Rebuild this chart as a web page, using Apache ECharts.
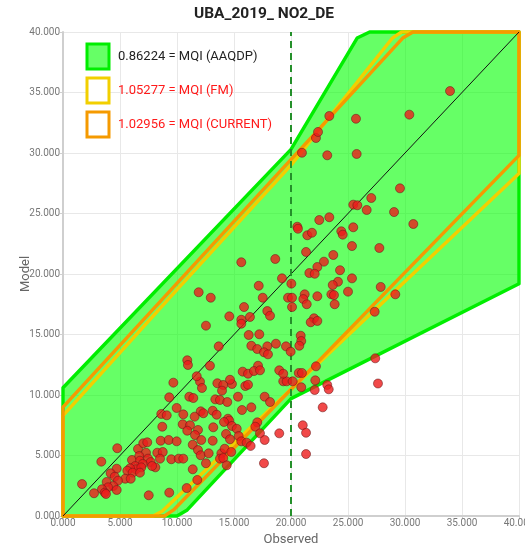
<!DOCTYPE html>
<html>
<head>
<meta charset="utf-8">
<script src="https://cdn.jsdelivr.net/npm/echarts@6/dist/echarts.min.js"></script>
<style>
  html, body { margin: 0; padding: 0; background: #fff; }
  #chart { width: 525px; height: 545px; }
</style>
</head>
<body>
<div id="chart"></div>
<script>
// Station means: observed vs modelled NO2
const observed = [
  9.32, 8.62, 9.10, 8.71, 8.57, 9.27, 4.76, 6.58, 7.04, 7.39,
  3.36, 7.28, 8.27, 8.75, 6.05, 6.69, 6.75, 7.46, 8.51, 7.69,
  6.99, 6.34, 6.40, 6.87, 8.10, 7.81, 9.50, 5.88, 5.64, 6.11,
  6.75, 4.71, 4.18, 4.54, 5.46, 5.94, 4.82, 3.83, 4.41, 3.95,
  3.42, 4.71, 3.66, 3.77, 1.67, 2.72, 7.52, 9.32, 9.68, 12.02,
  12.19, 13.54, 14.06, 14.82, 13.95, 15.99, 16.23, 19.32, 19.62, 9.97,
  11.08, 11.43, 13.36, 13.77, 14.41, 15.35, 17.69, 18.16, 16.52, 15.70,
  13.13, 13.48, 12.08, 12.31, 10.55, 11.55, 14.47, 14.59, 14.12, 10.50,
  11.14, 13.18, 14.82, 15.24, 17.04, 16.87, 10.90, 11.84, 11.58, 12.13,
  14.30, 14.65, 15.41, 15.64, 16.11, 17.28, 17.69, 18.97, 16.46, 9.97,
  13.13, 11.38, 11.84, 12.08, 12.78, 13.89, 14.18, 14.76, 13.77, 14.06,
  10.15, 10.55, 12.54, 14.36, 17.63, 11.38, 11.78, 10.85, 15.64, 18.62,
  19.21, 17.17, 11.90, 12.96, 17.52, 19.74, 15.88, 17.92, 18.16, 14.59,
  16.40, 15.64, 15.64, 12.54, 16.29, 17.22, 13.66, 16.52, 17.04, 17.92,
  18.68, 19.56, 17.63, 17.98, 10.90, 10.96, 12.89, 17.11, 15.76, 16.23,
  16.75, 17.28, 18.97, 19.32, 11.73, 14.65, 22.89, 23.71, 22.31, 21.61,
  22.08, 24.30, 25.35, 24.12, 23.66, 20.03, 25.00, 23.54, 23.77, 21.20,
  21.08, 22.31, 20.09, 21.38, 20.09, 23.83, 27.87, 29.15, 27.34, 22.02,
  21.73, 22.31, 20.85, 20.90, 20.73, 19.97, 27.39, 22.19, 20.68, 20.96,
  22.13, 23.18, 27.63, 20.15, 20.90, 22.08, 23.31, 22.78, 21.03, 21.32,
  21.32, 22.19, 22.37, 20.96, 23.18, 25.76, 29.56, 27.04, 25.46, 25.82,
  26.64, 29.04, 30.73, 22.48, 23.36, 20.55, 20.61, 21.43, 21.84, 24.41,
  24.54, 25.46, 25.35, 27.75, 21.32, 23.36, 25.70, 30.38, 33.95
];
const modelled = [
  9.81, 8.43, 8.32, 7.38, 6.22, 6.28, 5.60, 5.54, 6.01, 6.09,
  4.49, 5.23, 5.23, 5.29, 4.63, 4.96, 4.57, 4.74, 4.74, 4.46,
  4.30, 4.13, 3.86, 4.02, 4.02, 4.13, 4.69, 3.94, 3.74, 3.58,
  3.58, 3.91, 3.53, 3.25, 3.08, 3.08, 2.92, 2.81, 2.48, 2.37,
  2.21, 2.15, 1.93, 1.82, 2.64, 1.88, 1.71, 1.93, 11.02, 11.10,
  10.58, 10.97, 10.83, 10.91, 10.36, 10.74, 10.85, 11.13, 11.13, 8.93,
  9.86, 9.75, 9.64, 9.59, 9.42, 9.86, 9.86, 9.42, 8.98, 8.76,
  8.70, 8.37, 8.65, 8.49, 8.40, 8.21, 8.04, 7.88, 7.77, 7.58,
  7.50, 7.33, 7.44, 7.21, 7.74, 7.38, 7.05, 7.11, 6.69, 6.28,
  6.78, 6.34, 6.61, 6.17, 6.06, 6.83, 6.28, 6.83, 5.79, 6.17,
  6.22, 5.89, 5.45, 5.02, 5.18, 5.18, 5.56, 5.29, 4.74, 4.79,
  4.74, 4.74, 4.36, 4.19, 4.36, 3.86, 2.98, 2.31, 20.97, 21.24,
  19.64, 19.03, 18.49, 18.04, 18.04, 18.04, 17.27, 16.94, 16.55, 16.50,
  16.45, 16.22, 15.89, 15.73, 14.96, 15.02, 14.02, 14.07, 13.80, 14.02,
  14.24, 14.02, 13.53, 13.36, 12.87, 12.48, 12.42, 12.42, 11.93, 11.76,
  11.98, 12.04, 12.04, 11.76, 11.55, 11.26, 21.02, 21.57, 20.58, 20.08,
  20.02, 20.31, 19.64, 19.36, 19.09, 19.20, 18.54, 18.32, 18.26, 18.32,
  17.93, 18.16, 18.04, 17.50, 17.27, 17.50, 18.93, 18.32, 16.88, 16.34,
  16.01, 16.12, 14.90, 14.46, 14.07, 13.58, 13.03, 12.37, 11.82, 11.82,
  11.21, 10.83, 10.95, 11.13, 10.64, 10.41, 10.47, 8.98, 7.50, 6.88,
  5.12, 31.24, 31.74, 30.02, 29.81, 29.92, 27.08, 26.28, 25.73, 25.68,
  25.29, 25.12, 24.13, 24.46, 24.69, 23.91, 23.74, 23.20, 23.41, 23.53,
  23.25, 23.86, 22.31, 22.15, 21.82, 33.06, 32.83, 33.17, 35.12
];

// Acceptance envelopes (observed, model) traced around each region
const bandAAQDP = [[0, 0], [0, 10.6], [20, 30.3], [25.8, 39.5], [26.9, 40], [40, 40], [40, 19.2], [20, 9.7], [10.9, 0.5], [10.0, 0]];
const bandFM = [[0, 0], [0, 8.3], [10, 18.7], [20, 29.0], [28.9, 39.5], [29.7, 40], [40, 40], [40, 28.3], [8.7, 0.4], [7.9, 0]];
const bandCurrent = [[0, 0], [0, 9.0], [29.8, 39.5], [30.7, 40], [40, 40], [40, 29.8], [9.7, 0.5], [8.9, 0]];

const identityLine = [[0, 0], [40, 40]];
const limitLine = [[20, 0], [20, 40]];

const axisTicks = [0, 5, 10, 15, 20, 25, 30, 35, 40];

const names = {
  aaqdp: '0.86224 = MQI (AAQDP)',
  fm: '1.05277 = MQI (FM)',
  current: '1.02956 = MQI (CURRENT)'
};

const FONT = 'Roboto, "Noto Sans", sans-serif';

function bandSeries(name, pts, fill, stroke, z) {
  return {
    type: 'custom',
    name: name,
    coordinateSystem: 'cartesian2d',
    silent: true,
    z: z,
    data: [[0, 0]],
    renderItem: function (params, api) {
      return {
        type: 'polygon',
        shape: { points: pts.map(function (p) { return api.coord(p); }) },
        style: { fill: fill, stroke: stroke, lineWidth: 3.4, lineJoin: 'round' }
      };
    }
  };
}

const chart = echarts.init(document.getElementById('chart'), null, { renderer: 'canvas' });

const axisCommon = {
  type: 'value',
  min: axisTicks[0],
  max: axisTicks[axisTicks.length - 1],
  interval: axisTicks[1] - axisTicks[0],
  nameMoveOverlap: false,
  nameTextStyle: { color: '#666', fontSize: 13, fontFamily: FONT },
  axisLine: { show: true, lineStyle: { color: '#cfcfcf', width: 2 } },
  axisTick: { show: true, length: 3, lineStyle: { color: '#cfcfcf' } },
  axisLabel: {
    color: '#777', fontSize: 10, fontFamily: FONT,
    formatter: function (v) { return v.toFixed(3); }
  },
  splitLine: { show: true, lineStyle: { color: '#e8e8e8', width: 1 } }
};

chart.setOption({
  backgroundColor: '#ffffff',
  animation: false,
  title: {
    text: 'UBA_2019_ NO2_DE',
    left: 194,
    top: 6,
    padding: 0,
    textStyle: { fontSize: 15.5, fontWeight: 'bold', color: '#222', fontFamily: FONT }
  },
  grid: { left: 63, right: 6, top: 32, bottom: 29, containLabel: false, outerBoundsMode: 'none' },
  legend: {
    orient: 'vertical',
    left: 85.5,
    top: 42.5,
    padding: 0,
    itemWidth: 22,
    itemHeight: 25,
    itemGap: 6,
    selectedMode: false,
    textStyle: { fontSize: 13, fontFamily: FONT, padding: [0, 0, 0, 4] },
    data: [
      { name: names.aaqdp, icon: 'rect', itemStyle: { color: '#66ff66', borderColor: '#00ee00', borderWidth: 3 }, textStyle: { color: '#222' } },
      { name: names.fm, icon: 'rect', itemStyle: { color: '#ffffff', borderColor: '#f2cf00', borderWidth: 3 }, textStyle: { color: '#ff1a1a' } },
      { name: names.current, icon: 'rect', itemStyle: { color: '#ffffff', borderColor: '#f59a00', borderWidth: 3 }, textStyle: { color: '#ff1a1a' } }
    ]
  },
  xAxis: Object.assign({}, axisCommon, {
    name: 'Observed', nameLocation: 'middle', nameGap: 17,
    axisLabel: Object.assign({}, axisCommon.axisLabel, { margin: 2 })
  }),
  yAxis: Object.assign({}, axisCommon, {
    name: 'Model', nameLocation: 'middle', nameGap: 31,
    axisLabel: Object.assign({}, axisCommon.axisLabel, { margin: 3 })
  }),
  series: [
    bandSeries(names.aaqdp, bandAAQDP, 'rgba(0,255,0,0.6)', '#00ee00', 1),
    bandSeries(names.fm, bandFM, 'none', '#f2cf00', 2),
    bandSeries(names.current, bandCurrent, 'none', '#f59a00', 3),
    {
      type: 'line', data: identityLine, showSymbol: false, silent: true, z: 4,
      lineStyle: { color: '#111', width: 1 }
    },
    {
      type: 'line', data: limitLine, showSymbol: false, silent: true, z: 4,
      lineStyle: { color: '#24902a', width: 2, type: [7, 5] }
    },
    {
      type: 'scatter', z: 5, symbolSize: 9,
      data: observed.map(function (o, i) { return [o, modelled[i]]; }),
      itemStyle: { color: '#ee1c1c', borderColor: '#6a1a1a', borderWidth: 0.7 }
    }
  ]
});
</script>
</body>
</html>
